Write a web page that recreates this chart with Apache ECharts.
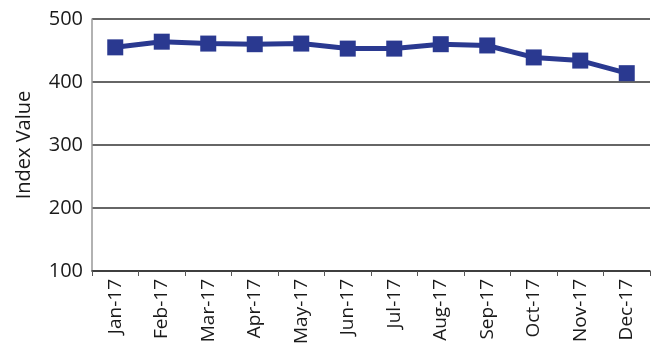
<!DOCTYPE html>
<html>
<head>
<meta charset="utf-8">
<script src="https://cdn.jsdelivr.net/npm/echarts@6/dist/echarts.min.js"></script>
<style>html,body{margin:0;padding:0;background:#fff;}#c{width:654px;height:349px;}</style>
</head>
<body>
<div id="c"></div>
<script>
var categories = ['Jan-17','Feb-17','Mar-17','Apr-17','May-17','Jun-17','Jul-17','Aug-17','Sep-17','Oct-17','Nov-17','Dec-17'];
var indexValues = [455, 464, 461, 460, 461, 453, 453, 460, 458, 439, 434, 414];
var yTicks = {min: 100, max: 500, interval: 100};

var chart = echarts.init(document.getElementById('c'));
chart.setOption({
  animation: false,
  backgroundColor: '#fff',
  grid: {left: 92, right: 4, top: 19, bottom: 78},
  xAxis: {
    type: 'category',
    data: categories,
    boundaryGap: true,
    axisLine: {lineStyle: {color: '#333', width: 1.5}},
    axisTick: {show: true, length: 5, lineStyle: {color: '#555', width: 1}},
    axisLabel: {rotate: 90, color: '#1a1a1a', fontSize: 19, fontFamily: 'Open Sans', margin: 8, interval: 0}
  },
  yAxis: {
    type: 'value',
    min: yTicks.min, max: yTicks.max, interval: yTicks.interval,
    name: 'Index Value',
    nameLocation: 'middle',
    nameGap: 58,
    nameTextStyle: {fontSize: 20, color: '#1a1a1a', fontFamily: 'Open Sans'},
    axisLine: {show: true, lineStyle: {color: '#999', width: 1.5}},
    axisTick: {show: false},
    axisLabel: {color: '#1a1a1a', fontSize: 20, fontFamily: 'Open Sans', margin: 9},
    splitLine: {show: true, lineStyle: {color: '#333', width: 1.5}}
  },
  series: [{
    type: 'line',
    data: indexValues,
    symbol: 'rect',
    symbolSize: 16,
    lineStyle: {color: '#2a3990', width: 5},
    itemStyle: {color: '#2a3990'}
  }]
});
</script>
</body>
</html>
